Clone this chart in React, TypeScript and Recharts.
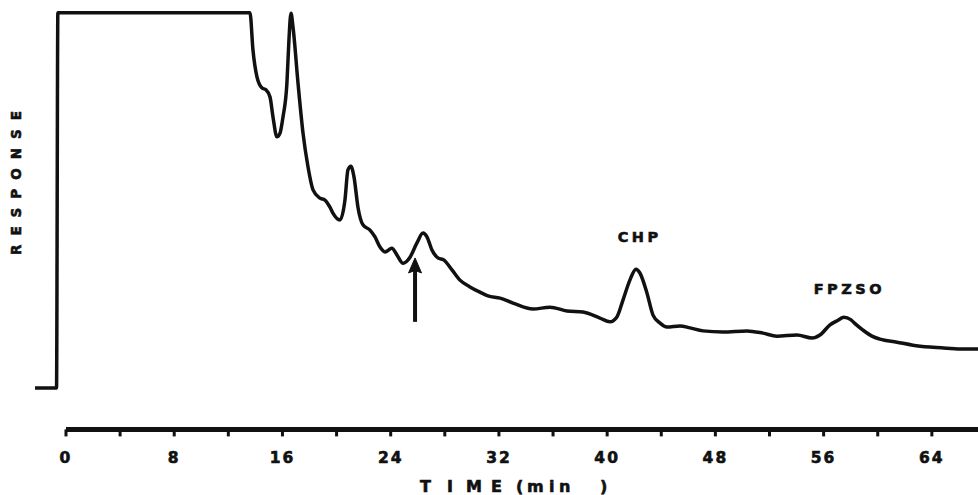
import React from 'react';
import { LineChart, Line, XAxis, YAxis, ReferenceLine, ReferenceDot, Customized } from 'recharts';

// Retention time (min) and detector response (arbitrary units, 0 = baseline, 100 = full scale)
const TIME_MIN = [
  -2.29, -0.7, -0.6, 13.6, 13.82, 14.12, 14.49, 14.78, 15.08, 15.3, 15.59, 15.82, 16.04, 16.33, 16.48,
  16.63, 16.78, 17.15, 17.52, 17.89, 18.26, 18.77, 19.14, 19.51, 19.73, 20.25, 20.62, 20.84, 21.06, 21.29,
  21.58, 21.95, 22.47, 22.84, 23.21, 23.58, 24.09, 24.46, 24.91, 25.43, 25.94, 26.39, 26.68, 27.05, 27.49,
  27.94, 28.53, 29.12, 29.86, 30.6, 31.19, 32.08, 33.04, 34.52, 35.77, 37.03, 38.21, 39.47, 40.21, 40.72,
  41.17, 41.68, 42.13, 42.42, 42.94, 43.39, 43.9, 44.42, 45.38, 46.12, 47.08, 48.56, 50.33, 51.52, 52.55,
  54.03, 55.14, 55.73, 56.47, 57.0, 57.5, 58.0, 58.3, 58.91, 59.57, 60.16, 61.42, 62.6, 63.86, 65.11,
  66.3, 67.41,
];
const RESPONSE = [
  0, 0, 99.8, 99.8, 89.9, 82.7, 79.8, 79.3, 77.4, 72.1, 66.8, 67.8, 72.1, 81.1, 92.6,
  99.7, 96.0, 81.1, 67.8, 58.8, 52.7, 50.5, 50.0, 48.1, 46.5, 44.7, 50.0, 58.0, 59.0, 56.1,
  48.1, 43.4, 42.0, 40.2, 37.5, 36.2, 37.2, 35.4, 33.2, 34.8, 38.6, 41.2, 40.2, 36.7, 34.6,
  34.0, 31.4, 28.7, 26.9, 25.5, 24.5, 23.9, 22.6, 21.0, 21.5, 20.5, 20.2, 18.6, 17.6, 18.9,
  23.4, 28.7, 31.6, 30.6, 25.3, 19.4, 17.3, 16.2, 16.5, 16.0, 15.2, 14.9, 15.2, 14.6, 13.8,
  14.1, 13.3, 14.1, 16.8, 17.9, 18.8, 18.2, 17.2, 15.4, 13.8, 13.0, 12.2, 11.4, 10.9, 10.6,
  10.4, 10.4,
];

const X_TICKS = [0, 4, 8, 12, 16, 20, 24, 28, 32, 36, 40, 44, 48, 52, 56, 60, 64];
const X_DOMAIN = [-2.29, 67.41];
const Y_DOMAIN = [-11, 102];

// Peak annotations: label, time, response position of label
const PEAK_LABELS = [
  { name: 'CHP', t: 42.4, r: 40.2 },
  { name: 'FPZSO', t: 57.9, r: 26.3 },
];
// Arrow marking a peak: time, tail response, tip response
const ARROW = { t: 25.8, from: 17.6, to: 34.6 };

const data = TIME_MIN.map((t, i) => ({ t, r: RESPONSE[i] }));

const FONT = '"DejaVu Sans", "Liberation Sans", sans-serif';
const INK = '#111';

const PeakLabel = (name: string) => (props: any) => (
  <text
    x={props.cx}
    y={props.cy}
    textAnchor="middle"
    dominantBaseline="central"
    fontFamily={FONT}
    fontWeight="bold"
    fontSize={14.5}
    letterSpacing={3.5}
    fill={INK}
    stroke={INK}
    strokeWidth={0.6}
  >
    {name}
  </text>
);

const ArrowShape = (props: any) => {
  const { x1, y1, x2, y2 } = props;
  const tipY = Math.min(y1, y2);
  const tailY = Math.max(y1, y2);
  const x = x1;
  return (
    <g>
      <line x1={x} y1={tailY} x2={x} y2={tipY + 12} stroke={INK} strokeWidth={4} />
      <path
        d={`M ${x} ${tipY} L ${x + 6.5} ${tipY + 15} L ${x} ${tipY + 12.5} L ${x - 6.5} ${tipY + 15} Z`}
        fill={INK}
        stroke={INK}
        strokeWidth={1}
      />
    </g>
  );
};

const Titles = () => (
  <g>
    <text
      x={21}
      y={255}
      transform="rotate(-90, 21, 255)"
      fontFamily={FONT}
      fontWeight="bold"
      fontSize={13.5}
      letterSpacing={9}
      fill={INK}
      stroke={INK}
      strokeWidth={0.6}
    >
      RESPONSE
    </text>
    <text
      x="420 447 466 491 505 516 527 549 559 585 600 612"
      y={492}
      fontFamily={FONT}
      fontWeight="bold"
      fontSize={16}
      fill={INK}
      stroke={INK}
      strokeWidth={0.6}
    >
      {'TIME (min  )'}
    </text>
  </g>
);

export default function App() {
  return (
    <div style={{ position: 'absolute', left: 0, top: 0, background: '#fff' }}>
      <LineChart
        width={978}
        height={495}
        data={data}
        margin={{ top: 4.5, right: 0, bottom: 35.6, left: 35 }}
      >
        <XAxis
          dataKey="t"
          type="number"
          domain={X_DOMAIN}
          allowDataOverflow
          ticks={X_TICKS}
          interval={0}
          height={30}
          axisLine={false}
          tickLine={{ stroke: INK, strokeWidth: 3 }}
          tickSize={7}
          tickMargin={16}
          tickFormatter={(v: number) => (v % 8 === 0 ? String(v) : '')}
          tick={{ fill: INK, stroke: INK, strokeWidth: 0.6, fontSize: 15.5, fontWeight: 'bold', fontFamily: FONT, letterSpacing: 2 }}
        />
        <YAxis type="number" domain={Y_DOMAIN} allowDataOverflow hide />
        <ReferenceLine
          segment={[
            { x: 0, y: Y_DOMAIN[0] },
            { x: X_DOMAIN[1], y: Y_DOMAIN[0] },
          ]}
          stroke={INK}
          strokeWidth={5}
          ifOverflow="visible"
        />
        <Line
          type="monotone"
          dataKey="r"
          stroke={INK}
          strokeWidth={3.5}
          dot={false}
          activeDot={false}
          isAnimationActive={false}
        />
        <ReferenceLine
          segment={[
            { x: ARROW.t, y: ARROW.from },
            { x: ARROW.t, y: ARROW.to },
          ]}
          shape={ArrowShape}
          ifOverflow="visible"
        />
        {PEAK_LABELS.map((p) => (
          <ReferenceDot key={p.name} x={p.t} y={p.r} r={0} shape={PeakLabel(p.name)} ifOverflow="visible" />
        ))}
        <Customized component={Titles} />
      </LineChart>
    </div>
  );
}
